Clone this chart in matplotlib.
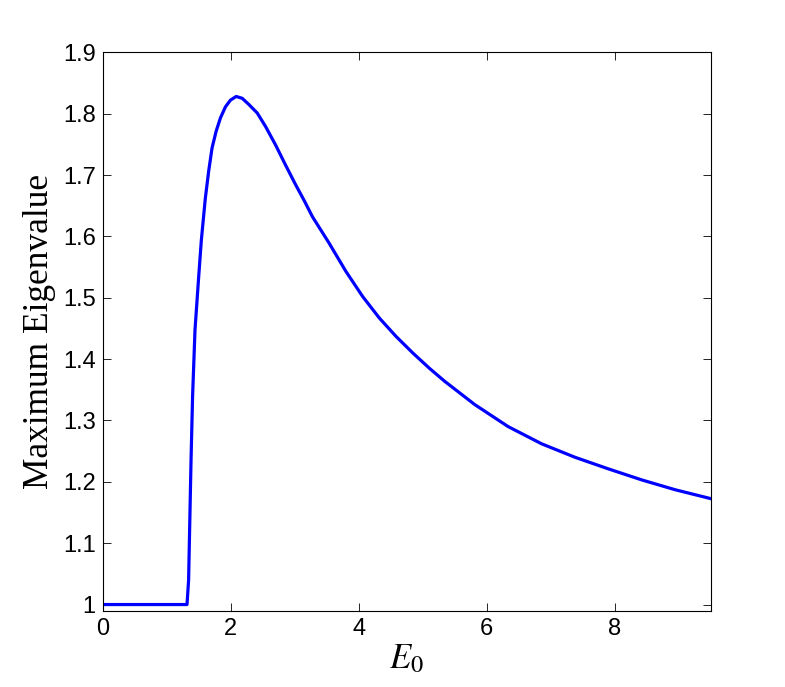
import numpy as np
import matplotlib.pyplot as plt

# =========================
# DATOS
# =========================
e0 = [0.0, 0.5, 1.0, 1.317, 1.342, 1.379, 1.404, 1.442, 1.50, 1.541, 1.603,
      1.655, 1.708, 1.771, 1.839, 1.917, 1.995, 2.085, 2.179, 2.282, 2.414,
      2.544, 2.70, 2.857, 3.014, 3.144, 3.276, 3.536, 3.798, 4.060, 4.320,
      4.581, 4.843, 5.103, 5.339, 5.809, 6.332, 6.854, 7.376, 7.900, 8.422,
      8.944, 9.52]
lam = [1.0, 1.0, 1.0, 1.0, 1.040, 1.231, 1.339, 1.448, 1.535, 1.594, 1.662,
       1.706, 1.744, 1.771, 1.793, 1.811, 1.822, 1.828, 1.825, 1.815, 1.801,
       1.779, 1.749, 1.716, 1.684, 1.659, 1.632, 1.589, 1.543, 1.502, 1.467,
       1.437, 1.410, 1.385, 1.364, 1.326, 1.290, 1.262, 1.240, 1.221, 1.203,
       1.187, 1.172]

xticks = [0, 2, 4, 6, 8]
yticks = [1.0, 1.1, 1.2, 1.3, 1.4, 1.5, 1.6, 1.7, 1.8, 1.9]
yticklabels = ["1", "1.1", "1.2", "1.3", "1.4", "1.5", "1.6", "1.7", "1.8", "1.9"]

plt.rcParams["font.family"] = "Liberation Sans"
plt.rcParams["mathtext.fontset"] = "stix"

fig = plt.figure(figsize=(7.85, 6.87), dpi=100)
ax = fig.add_axes([0.1308, 0.1111, 0.7749, 0.8128])

ax.plot(e0, lam, color="#0000ff", linewidth=2.3)

ax.set_xlim(0, 9.5)
ax.set_ylim(0.99, 1.9)
ax.set_xticks(xticks)
ax.set_yticks(yticks)
ax.set_yticklabels(yticklabels)
ax.tick_params(direction="in", length=6, width=0.6, labelsize=17,
               top=True, right=True, pad=5)
for s in ax.spines.values():
    s.set_linewidth(0.8)

ax.set_xlabel(r"$E_0$", fontsize=25, labelpad=2)
ax.set_ylabel("Maximum Eigenvalue", fontsize=25.5, family="Liberation Serif", labelpad=5)

plt.savefig("out.png", dpi=100)
